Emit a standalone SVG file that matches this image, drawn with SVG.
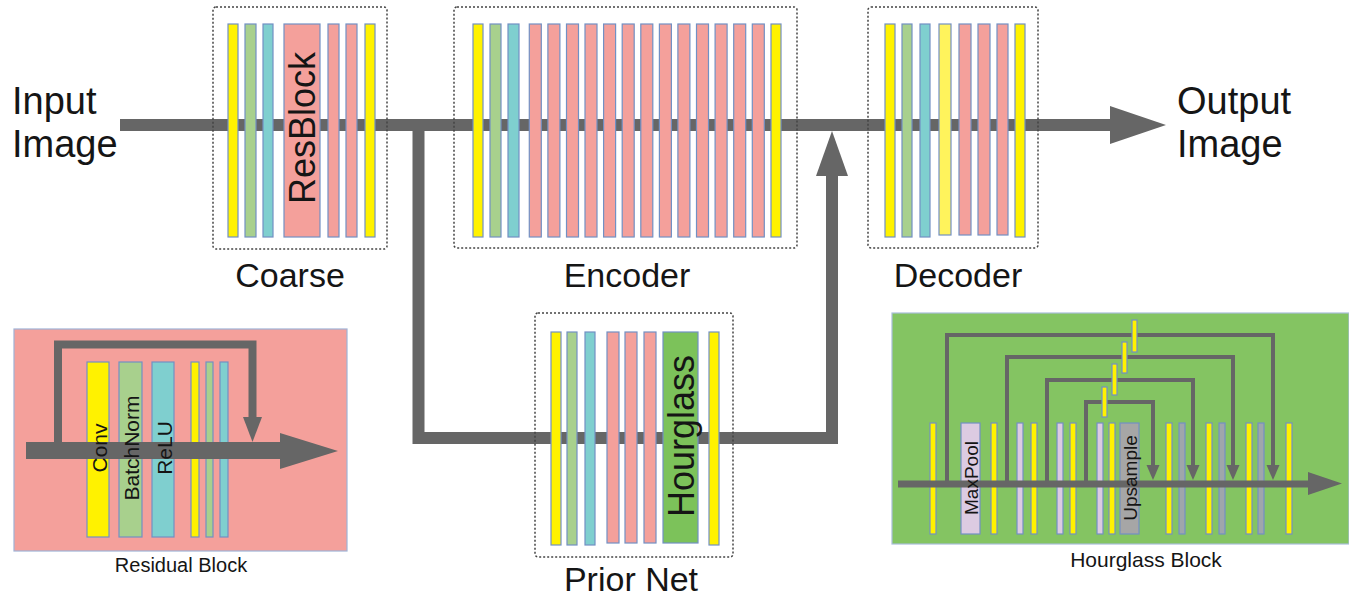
<svg xmlns="http://www.w3.org/2000/svg" width="1349" height="598" viewBox="0 0 1349 598">
<style>
.bar{stroke:#7290c4;stroke-width:1.2}
.y{fill:#fff200}.g{fill:#a8d08d}.c{fill:#7fcfcf}.p{fill:#f4a09b}.ly{fill:#fff35c}.hg{fill:#7cc25a}.lv{fill:#dccbe2}.gr{fill:#a6a6a6}.gb{fill:#9fa6ab}
.box{fill:none;stroke:#444;stroke-width:1.5;stroke-dasharray:2 2}
.ln{fill:none;stroke:#666;stroke-linejoin:miter}
.ah{fill:#666}
.lbl{font-family:"Liberation Sans",Arial,sans-serif;fill:#151515}
.rot{font-family:"Liberation Sans",Arial,sans-serif;fill:#151515;text-anchor:middle;dominant-baseline:central}
</style>

<g id="connectors">
  <line class="ln" x1="120" y1="125" x2="1111" y2="125" stroke-width="12"/>
  <polygon class="ah" points="1110,106 1110,144 1166,125"/>
  <path class="ln" d="M418.5,125 V438 H832 V175" stroke-width="12"/>
  <polygon class="ah" points="816,176 848,176 832,131"/>
</g>

<g id="coarse">
  <rect class="box" x="213" y="7" width="174" height="242" rx="3"/>
  <rect class="bar y" x="228" y="24" width="10" height="213"/>
  <rect class="bar g" x="245" y="24" width="11" height="213"/>
  <rect class="bar c" x="263" y="24" width="10" height="213"/>
  <rect class="bar p" x="284" y="24" width="36" height="213"/>
  <rect class="bar p" x="328" y="24" width="11" height="213"/>
  <rect class="bar p" x="346" y="24" width="11" height="213"/>
  <rect class="bar y" x="365" y="24" width="10" height="213"/>
  <text class="rot" font-size="36" transform="translate(302,128) rotate(-90)">ResBlock</text>
  <text class="lbl" x="290" y="287" font-size="34" text-anchor="middle">Coarse</text>
</g>

<g id="encoder">
  <rect class="box" x="454" y="7" width="343" height="241" rx="3"/>
  <rect class="bar y" x="473" y="24" width="10" height="213"/>
  <rect class="bar g" x="490" y="24" width="11" height="213"/>
  <rect class="bar c" x="508" y="24" width="11" height="213"/>
  <rect class="bar p" x="529.3" y="24" width="12" height="213"/>
  <rect class="bar p" x="547.9" y="24" width="12" height="213"/>
  <rect class="bar p" x="566.5" y="24" width="12" height="213"/>
  <rect class="bar p" x="585.0" y="24" width="12" height="213"/>
  <rect class="bar p" x="603.6" y="24" width="12" height="213"/>
  <rect class="bar p" x="622.2" y="24" width="12" height="213"/>
  <rect class="bar p" x="640.8" y="24" width="12" height="213"/>
  <rect class="bar p" x="659.4" y="24" width="12" height="213"/>
  <rect class="bar p" x="677.9" y="24" width="12" height="213"/>
  <rect class="bar p" x="696.5" y="24" width="12" height="213"/>
  <rect class="bar p" x="715.1" y="24" width="12" height="213"/>
  <rect class="bar p" x="733.7" y="24" width="12" height="213"/>
  <rect class="bar p" x="752.3" y="24" width="12" height="213"/>
  <rect class="bar y" x="771" y="24" width="10" height="213"/>
  <text class="lbl" x="627" y="287" font-size="34" text-anchor="middle">Encoder</text>
</g>

<g id="decoder">
  <rect class="box" x="868" y="7" width="170" height="241" rx="3"/>
  <rect class="bar y" x="885" y="24" width="10" height="213"/>
  <rect class="bar g" x="902" y="24" width="10" height="213"/>
  <rect class="bar c" x="920" y="24" width="10" height="213"/>
  <rect class="bar ly" x="939" y="24" width="12" height="211"/>
  <rect class="bar p" x="959" y="24" width="12" height="211"/>
  <rect class="bar p" x="978" y="24" width="12" height="211"/>
  <rect class="bar p" x="997" y="24" width="11" height="211"/>
  <rect class="bar y" x="1015" y="24" width="10" height="213"/>
  <text class="lbl" x="958" y="287" font-size="34" text-anchor="middle">Decoder</text>
</g>

<g id="prior-net">
  <rect class="box" x="535" y="313" width="198" height="244" rx="3"/>
  <rect class="bar y" x="551" y="332" width="10" height="213"/>
  <rect class="bar g" x="567" y="332" width="10" height="213"/>
  <rect class="bar c" x="585" y="332" width="10" height="213"/>
  <rect class="bar p" x="607" y="332" width="12" height="211"/>
  <rect class="bar p" x="625" y="332" width="12" height="211"/>
  <rect class="bar p" x="644" y="332" width="12" height="211"/>
  <rect class="bar hg" x="663" y="332" width="35" height="211"/>
  <rect class="bar y" x="709" y="332" width="10" height="213"/>
  <text class="rot" font-size="36" transform="translate(681,436) rotate(-90)">Hourglass</text>
  <text class="lbl" x="631" y="591" font-size="34" text-anchor="middle">Prior Net</text>
</g>

<g id="input-label">
  <text class="lbl" x="12" y="114" font-size="38">Input</text>
  <text class="lbl" x="12" y="157" font-size="38">Image</text>
</g>
<g id="output-label">
  <text class="lbl" x="1177" y="114" font-size="38">Output</text>
  <text class="lbl" x="1177" y="157" font-size="38">Image</text>
</g>

<g id="residual-block">
  <rect x="14" y="329" width="333" height="222" fill="#f4a09b" stroke="#9fb2d6" stroke-width="1.2"/>
  <rect class="bar y" x="87" y="362" width="22" height="175"/>
  <rect class="bar g" x="119" y="362" width="23" height="175"/>
  <rect class="bar c" x="152" y="362" width="22" height="175"/>
  <rect class="bar y" x="191" y="362" width="8" height="175"/>
  <rect class="bar g" x="206" y="362" width="7" height="175"/>
  <rect class="bar c" x="220" y="362" width="8" height="175"/>
  <line class="ln" x1="26" y1="450.5" x2="281" y2="450.5" stroke-width="17"/>
  <polygon class="ah" points="280,433 280,469 338,451"/>
  <path class="ln" d="M58,450 V344.5 H252.5 V419" stroke-width="8"/>
  <polygon class="ah" points="243,417 262,417 252.5,442"/>
  <text class="rot" font-size="21" transform="translate(99,448) rotate(-90)">Conv</text>
  <text class="rot" font-size="21" transform="translate(131,448) rotate(-90)">BatchNorm</text>
  <text class="rot" font-size="21" transform="translate(164,448) rotate(-90)">ReLU</text>
  <text class="lbl" x="181" y="572" font-size="20" text-anchor="middle">Residual Block</text>
</g>

<g id="hourglass-block">
  <rect x="892" y="313" width="457" height="231" fill="#84c462" stroke="#a9bfd9" stroke-width="1.2"/>
  <rect class="bar y" x="930" y="423" width="6" height="111"/>
  <rect class="bar lv" x="961" y="423" width="19" height="111"/>
  <rect class="bar y" x="991" y="423" width="6" height="111"/>
  <rect class="bar lv" x="1017" y="423" width="6" height="111"/>
  <rect class="bar y" x="1031" y="423" width="6" height="111"/>
  <rect class="bar lv" x="1057" y="423" width="6" height="111"/>
  <rect class="bar y" x="1070" y="423" width="6" height="111"/>
  <rect class="bar lv" x="1097" y="423" width="6" height="111"/>
  <rect class="bar y" x="1109" y="423" width="6" height="111"/>
  <rect class="bar gr" x="1120" y="423" width="19" height="111"/>
  <rect class="bar y" x="1166" y="423" width="6" height="111"/>
  <rect class="bar gb" x="1179" y="423" width="6" height="111"/>
  <rect class="bar y" x="1206" y="423" width="6" height="111"/>
  <rect class="bar gb" x="1219" y="423" width="6" height="111"/>
  <rect class="bar y" x="1246" y="423" width="6" height="111"/>
  <rect class="bar gb" x="1258" y="423" width="6" height="111"/>
  <rect class="bar y" x="1286" y="423" width="6" height="111"/>
  <line class="ln" x1="898" y1="484" x2="1309" y2="484" stroke-width="7"/>
  <polygon class="ah" points="1308,472 1308,495 1342,483.5"/>
  <path class="ln" d="M947,484 V335 H1273 V467" stroke-width="4"/>
  <path class="ln" d="M1007,484 V357 H1233 V467" stroke-width="4"/>
  <path class="ln" d="M1047,484 V380 H1193 V467" stroke-width="4"/>
  <path class="ln" d="M1086,484 V402 H1153 V467" stroke-width="4"/>
  <polygon class="ah" points="1266.5,465 1279.5,465 1273,480"/>
  <polygon class="ah" points="1226.5,465 1239.5,465 1233,480"/>
  <polygon class="ah" points="1186.5,465 1199.5,465 1193,480"/>
  <polygon class="ah" points="1146.5,465 1159.5,465 1153,480"/>
  <rect class="bar y" x="1132" y="320" width="5" height="32"/>
  <rect class="bar y" x="1122" y="342" width="5" height="31"/>
  <rect class="bar y" x="1112" y="364" width="5" height="31"/>
  <rect class="bar y" x="1102" y="387" width="5" height="30"/>
  <text class="rot" font-size="19" transform="translate(971,478) rotate(-90)">MaxPool</text>
  <text class="rot" font-size="19" transform="translate(1130,478) rotate(-90)">Upsample</text>
  <text class="lbl" x="1146" y="567" font-size="21" text-anchor="middle">Hourglass Block</text>
</g>
</svg>
